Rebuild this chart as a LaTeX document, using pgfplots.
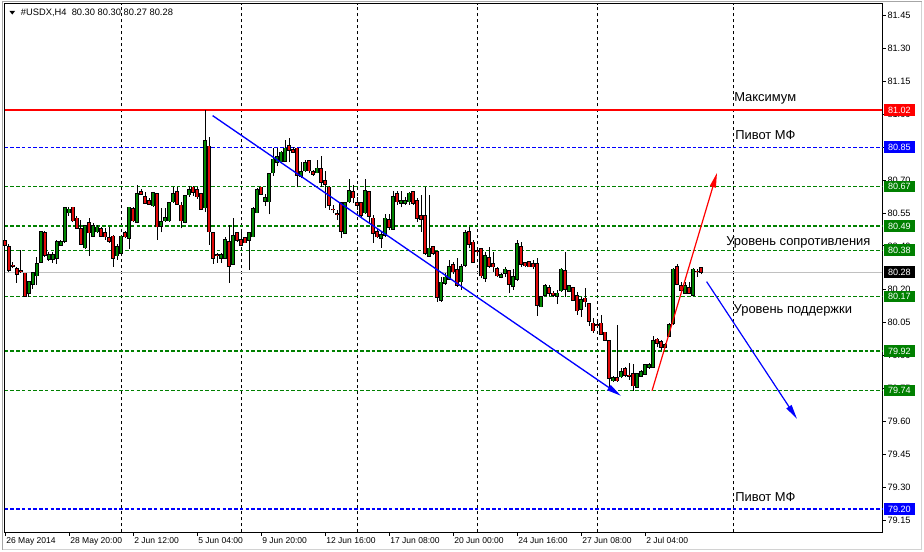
\documentclass[border=0pt]{standalone}
\usepackage{pgfplots}
\pgfplotsset{compat=1.18}
\usepackage{pgfplotstable}
\usetikzlibrary{arrows.meta}
\usepackage{fontspec}
\setmainfont{Liberation Sans}

\definecolor{mtgreen}{RGB}{0,128,0}
\definecolor{mtred}{RGB}{255,0,0}
\definecolor{mtblue}{RGB}{0,0,255}
\definecolor{mtgray}{RGB}{192,192,192}
\definecolor{upc}{RGB}{0,135,0}
\definecolor{dnc}{RGB}{225,10,10}

% USDX H4 bars: index, open, high, low, close
\pgfplotstableread{
i o h l c
1 80.424 80.427 80.390 80.404
2 80.397 80.409 80.282 80.290
3 80.311 80.328 80.299 80.309
4 80.295 80.305 80.232 80.272
5 80.286 80.382 80.277 80.284
6 80.275 80.277 80.168 80.172
7 80.185 80.237 80.168 80.236
8 80.226 80.283 80.204 80.277
9 80.264 80.351 80.222 80.318
10 80.326 80.469 80.321 80.465
11 80.459 80.468 80.351 80.359
12 80.341 80.374 80.333 80.359
13 80.341 80.374 80.324 80.359
14 80.344 80.427 80.318 80.417
15 80.404 80.427 80.400 80.417
16 80.423 80.576 80.415 80.572
17 80.552 80.576 80.537 80.567
18 80.576 80.579 80.511 80.515
19 80.526 80.537 80.480 80.482
20 80.477 80.518 80.404 80.408
21 80.392 80.496 80.386 80.492
22 80.506 80.529 80.356 80.460
23 80.445 80.506 80.442 80.491
24 80.465 80.496 80.458 80.485
25 80.476 80.485 80.442 80.445
26 80.459 80.481 80.427 80.442
27 80.436 80.488 80.415 80.421
28 80.444 80.450 80.305 80.344
29 80.356 80.409 80.336 80.397
30 80.366 80.450 80.359 80.444
31 80.458 80.468 80.438 80.442
32 80.435 80.579 80.385 80.576
33 80.569 80.575 80.508 80.515
34 80.508 80.678 80.503 80.636
35 80.646 80.658 80.633 80.636
36 80.625 80.647 80.591 80.595
37 80.604 80.616 80.587 80.591
38 80.584 80.647 80.579 80.643
39 80.636 80.640 80.427 80.488
40 80.491 80.572 80.461 80.508
41 80.515 80.572 80.511 80.529
42 80.515 80.599 80.511 80.595
43 80.602 80.667 80.595 80.636
44 80.645 80.667 80.587 80.591
45 80.585 80.602 80.480 80.515
46 80.508 80.632 80.503 80.627
47 80.634 80.673 80.625 80.655
48 80.667 80.673 80.628 80.645
49 80.655 80.667 80.614 80.625
50 80.636 80.643 80.564 80.567
51 80.574 81.020 80.556 80.879
52 80.854 80.898 80.404 80.465
53 80.459 80.462 80.318 80.344
54 80.360 80.366 80.324 80.358
55 80.344 80.366 80.321 80.359
56 80.344 80.442 80.339 80.426
57 80.417 80.496 80.232 80.309
58 80.316 80.526 80.313 80.445
59 80.458 80.465 80.419 80.427
60 80.427 80.465 80.402 80.404
61 80.435 80.438 80.412 80.415
62 80.427 80.461 80.290 80.458
63 80.442 80.575 80.439 80.569
64 80.552 80.663 80.549 80.655
65 80.667 80.670 80.633 80.636
66 80.605 80.636 80.582 80.620
67 80.602 80.734 80.544 80.728
68 80.734 80.845 80.719 80.795
69 80.782 80.848 80.762 80.807
70 80.784 80.834 80.777 80.827
71 80.787 80.883 80.784 80.845
72 80.856 80.894 80.781 80.838
73 80.838 80.852 80.823 80.827
74 80.845 80.848 80.667 80.724
75 80.719 80.784 80.708 80.739
76 80.743 80.792 80.739 80.777
77 80.787 80.792 80.731 80.743
78 80.739 80.746 80.720 80.728
79 80.734 80.792 80.731 80.754
80 80.750 80.810 80.670 80.689
81 80.696 80.743 80.572 80.682
82 80.667 80.673 80.564 80.587
83 80.567 80.587 80.549 80.565
84 80.546 80.564 80.518 80.544
85 80.597 80.602 80.435 80.468
86 80.458 80.597 80.455 80.595
87 80.602 80.704 80.595 80.652
88 80.645 80.678 80.595 80.620
89 80.595 80.625 80.564 80.587
90 80.595 80.597 80.533 80.541
91 80.552 80.704 80.546 80.652
92 80.645 80.652 80.506 80.537
93 80.526 80.541 80.415 80.458
94 80.465 80.476 80.435 80.442
95 80.435 80.465 80.392 80.450
96 80.450 80.546 80.442 80.526
97 80.518 80.546 80.473 80.485
98 80.476 80.652 80.473 80.625
99 80.637 80.652 80.587 80.602
100 80.595 80.652 80.576 80.605
101 80.595 80.625 80.587 80.605
102 80.602 80.647 80.587 80.640
103 80.645 80.647 80.587 80.595
104 80.605 80.617 80.511 80.526
105 80.537 80.632 80.465 80.522
106 80.537 80.670 80.359 80.366
107 80.354 80.632 80.351 80.389
108 80.394 80.400 80.359 80.366
109 80.374 80.377 80.146 80.166
110 80.154 80.260 80.146 80.234
111 80.230 80.275 80.222 80.257
112 80.248 80.336 80.245 80.305
113 80.313 80.328 80.272 80.283
114 80.290 80.344 80.214 80.222
115 80.237 80.318 80.199 80.305
116 80.313 80.473 80.305 80.458
117 80.465 80.488 80.389 80.409
118 80.416 80.427 80.322 80.325
119 80.377 80.391 80.368 80.375
120 80.385 80.389 80.252 80.264
121 80.254 80.374 80.237 80.356
122 80.344 80.394 80.298 80.309
123 80.318 80.374 80.283 80.305
124 80.295 80.305 80.257 80.264
125 80.257 80.275 80.252 80.268
126 80.275 80.303 80.260 80.293
127 80.286 80.290 80.184 80.225
128 80.217 80.293 80.199 80.260
129 80.248 80.427 80.242 80.409
130 80.397 80.417 80.303 80.318
131 80.324 80.328 80.303 80.310
132 80.326 80.328 80.303 80.305
133 80.318 80.336 80.293 80.305
134 80.318 80.344 80.081 80.131
135 80.123 80.172 80.120 80.166
136 80.176 80.226 80.172 80.217
137 80.210 80.222 80.173 80.184
138 80.184 80.196 80.168 80.176
139 80.172 80.199 80.134 80.184
140 80.196 80.298 80.191 80.293
141 80.286 80.374 80.166 80.204
142 80.194 80.222 80.191 80.217
143 80.207 80.210 80.150 80.154
144 80.172 80.191 80.085 80.105
145 80.113 80.166 80.077 80.154
146 80.161 80.207 80.123 80.146
147 80.135 80.138 80.035 80.058
148 80.047 80.070 80.004 80.014
149 80.041 80.053 80.030 80.039
150 80.047 80.085 79.994 79.999
151 80.006 80.009 79.967 79.971
152 79.966 79.971 79.751 79.797
153 79.786 79.808 79.781 79.799
154 79.797 80.040 79.781 79.786
155 79.804 79.842 79.797 79.824
156 79.839 79.849 79.804 79.811
157 79.809 79.865 79.789 79.807
158 79.816 79.862 79.740 79.763
159 79.756 79.822 79.751 79.816
160 79.807 79.836 79.804 79.824
161 79.816 79.862 79.811 79.857
162 79.847 79.865 79.838 79.857
163 79.847 79.989 79.842 79.966
164 79.974 79.979 79.938 79.956
165 79.963 79.971 79.926 79.938
166 79.938 79.959 79.933 79.948
167 79.989 80.047 79.986 80.040
168 80.047 80.298 80.040 80.293
169 80.305 80.318 80.222 80.227
170 80.217 80.237 80.187 80.199
171 80.184 80.237 80.181 80.217
172 80.207 80.237 80.181 80.184
173 80.176 80.298 80.173 80.293
174 80.284 80.293 80.260 80.282
175 80.300 80.300 80.270 80.280
}\bars

\tikzset{
  lvl/.style={anchor=west, xshift=1.2pt, text=white, font=\fontsize{6.8}{7}\selectfont,
    minimum height=8.7pt, inner ysep=0pt, inner xsep=2.9pt, text width=17.5pt, align=left},
  note/.style={anchor=west, inner sep=0pt, font=\fontsize{9.7}{11}\selectfont},
  hdash/.style={line width=1pt, dash pattern=on 2.7pt off 1.6pt},
}
\pgfplotsset{
  candle/.style={draw=none, mark=none, forget plot, error bars/.cd, y dir=plus,
    y explicit, error mark=none},
}

\begin{document}
\begin{tikzpicture}
\path[use as bounding box, fill=white] (0,0) rectangle (693pt,414pt);
\draw[gray!35, line width=0.75pt] (1.5pt,1.6pt) rectangle (691.4pt,413pt);
\draw[gray!70, line width=0.9pt] (1.9pt,1.6pt) -- (1.9pt,413pt) -- (691.4pt,413pt);

\begin{axis}[
  at={(3.525pt,14.8pt)}, anchor=south west,
  scale only axis, width=658.2pt, height=396.2pt,
  xmin=0.925, xmax=220.325, ymin=79.094, ymax=81.503,
  clip=false,
  axis line style={line width=0.75pt},
  tick align=outside, major tick length=2.7pt,
  tick style={black, line width=0.6pt},
  xtick pos=bottom, ytick pos=right, yticklabel pos=right,
  xtick={1,17,33,49,65,81,97,113,129,145,161},
  xticklabels={26 May 2014, 28 May 20:00, 2 Jun 12:00, 5 Jun 04:00, 9 Jun 20:00,
    12 Jun 16:00, 17 Jun 08:00, 20 Jun 00:00, 24 Jun 16:00, 27 Jun 08:00, 2 Jul 04:00},
  xticklabel style={anchor=north west, inner sep=0pt, xshift=0.8pt, yshift=-1pt,
    font=\fontsize{6.4}{7}\selectfont},
  ytick={79.15,79.30,79.45,79.60,79.75,79.90,80.05,80.20,80.40,80.55,80.70,80.85,81.00,81.15,81.30,81.45},
  yticklabel style={anchor=west, inner sep=0pt, xshift=1pt, font=\fontsize{6.9}{7}\selectfont,
    /pgf/number format/fixed, /pgf/number format/fixed zerofill,
    /pgf/number format/precision=2, /pgf/number format/assume math mode=true},
  extra x ticks={30,60,89,119,149,183},
  extra x tick labels={},
  extra x tick style={grid=major, tick style={draw=none},
    major grid style={black, line width=0.6pt, dash pattern=on 2.25pt off 2.25pt}},
]
% price levels
\addplot[draw=mtred, line width=1pt] coordinates {(0.925,81.02) (220.325,81.02)};
\addplot[draw=mtblue, hdash] coordinates {(0.925,80.85) (220.325,80.85)};
\addplot[draw=mtgreen, hdash] coordinates {(0.925,80.67) (220.325,80.67)};
\addplot[draw=mtgreen, hdash] coordinates {(0.925,80.49) (220.325,80.49)};
\addplot[draw=mtgreen, hdash] coordinates {(0.925,80.38) (220.325,80.38)};
\addplot[draw=mtgray, line width=0.9pt] coordinates {(0.925,80.28) (220.325,80.28)};
\addplot[draw=mtgreen, hdash] coordinates {(0.925,80.17) (220.325,80.17)};
\addplot[draw=mtgreen, hdash] coordinates {(0.925,79.92) (220.325,79.92)};
\addplot[draw=mtgreen, hdash] coordinates {(0.925,79.74) (220.325,79.74)};
\addplot[draw=mtblue, hdash] coordinates {(0.925,79.20) (220.325,79.20)};

% wicks
\addplot[candle, error bar style={draw=black, line width=0.75pt}]
  table[x=i, y=l, y error plus expr={\thisrow{h}-\thisrow{l}}] {\bars};
% body outline
\addplot[candle, error bar style={draw=black, line width=2.3pt}]
  table[x=i, y expr={min(\thisrow{o},\thisrow{c})-0.0032},
        y error plus expr={abs(\thisrow{c}-\thisrow{o})+0.0064}] {\bars};
% body fill, rising bars
\addplot[candle, error bar style={draw=upc, line width=0.9pt}]
  table[x=i, y=o, y error plus expr={max(\thisrow{c}-\thisrow{o},0)}] {\bars};
% body fill, falling bars
\addplot[candle, error bar style={draw=dnc, line width=0.9pt}]
  table[x=i, y=c, y error plus expr={max(\thisrow{o}-\thisrow{c},0)}] {\bars};

% trend arrows
\addplot[draw=mtblue, line width=1pt, -{Triangle[length=11pt, width=4.5pt]}]
  coordinates {(52.9,80.994) (155.0,79.716)};
\addplot[draw=mtred, line width=0.9pt, -{Triangle[length=11pt, width=4.5pt]}]
  coordinates {(162.75,79.739) (179.0,80.733)};
\addplot[draw=mtblue, line width=0.9pt, -{Triangle[length=11pt, width=4.5pt]}]
  coordinates {(176.4,80.237) (199.0,79.611)};

\coordinate (r1) at (axis cs:220.325,81.02);
\coordinate (r2) at (axis cs:220.325,80.85);
\coordinate (r3) at (axis cs:220.325,80.67);
\coordinate (r4) at (axis cs:220.325,80.49);
\coordinate (r5) at (axis cs:220.325,80.38);
\coordinate (r6) at (axis cs:220.325,80.28);
\coordinate (r7) at (axis cs:220.325,80.17);
\coordinate (r8) at (axis cs:220.325,79.92);
\coordinate (r9) at (axis cs:220.325,79.74);
\coordinate (r10) at (axis cs:220.325,79.20);

\node[note] at (axis cs:183.25,81.073) {Максимум};
\node[note] at (axis cs:183.5,80.906) {Пивот МФ};
\node[note] at (axis cs:181.25,80.415) {Уровень сопротивления};
\node[note] at (axis cs:183.1,80.105) {Уровень поддержки};
\node[note] at (axis cs:183.5,79.255) {Пивот МФ};
\end{axis}

\node[lvl, fill=mtred] at (r1) {81.02};
\node[lvl, fill=mtblue] at (r2) {80.85};
\node[lvl, fill=mtgreen] at (r3) {80.67};
\node[lvl, fill=mtgreen] at (r4) {80.49};
\node[lvl, fill=mtgreen] at (r5) {80.38};
\node[lvl, fill=black] at (r6) {80.28};
\node[lvl, fill=mtgreen] at (r7) {80.17};
\node[lvl, fill=mtgreen] at (r8) {79.92};
\node[lvl, fill=mtgreen] at (r9) {79.74};
\node[lvl, fill=mtblue] at (r10) {79.20};

% chart header
\fill (7.1pt,405.8pt) -- (11.3pt,405.8pt) -- (9.2pt,403.1pt) -- cycle;
\node[anchor=west, inner sep=0pt, font=\fontsize{7}{8}\selectfont] at (15.5pt,404pt)
  {\#USDX,H4\ \ 80.30 80.30 80.27 80.28};
\end{tikzpicture}
\end{document}
